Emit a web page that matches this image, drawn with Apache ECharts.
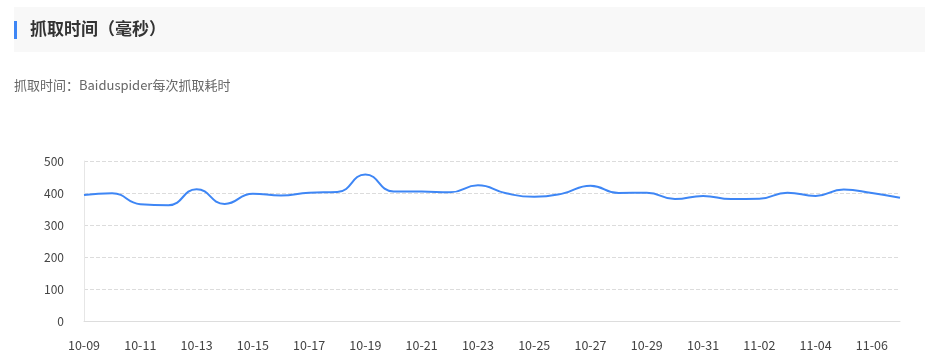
<!DOCTYPE html>
<html>
<head>
<meta charset="utf-8">
<style>
html,body{margin:0;padding:0;background:#fff;}
#chart{width:925px;height:364px;}
</style>
<script src="https://cdn.jsdelivr.net/npm/echarts@6/dist/echarts.min.js"></script>
</head>
<body>
<div id="chart"></div>
<script>
var titleText = '抓取时间（毫秒）';
var subtitleText = '抓取时间：Baiduspider每次抓取耗时';
var dates = ['10-09','10-10','10-11','10-12','10-13','10-14','10-15','10-16','10-17','10-18',
             '10-19','10-20','10-21','10-22','10-23','10-24','10-25','10-26','10-27','10-28',
             '10-29','10-30','10-31','11-01','11-02','11-03','11-04','11-05','11-06','11-07'];
var crawlTime = [394,399,365,362,412,366,398,392,401,403,
                 458,405,405,402,424,399,388,398,423,400,
                 401,381,391,381,382,401,391,411,400,385];
var yTicks = [0,100,200,300,400,500];

var font = '"Noto Sans CJK SC","Noto Sans",sans-serif';
var chart = echarts.init(document.getElementById('chart'), null, {renderer:'canvas'});
chart.setOption({
  animation:false,
  graphic:[
    {type:'rect', left:14, top:7, shape:{width:911,height:45}, style:{fill:'#f8f8f8'}, z:0},
    {type:'rect', left:14, top:21, shape:{width:3,height:18}, style:{fill:'#3e86f5'}, z:1},
    {type:'text', left:30, top:20, style:{text:titleText, fill:'#333', font:'bold 17px '+font}, z:2},
    {type:'text', left:14, top:79, style:{text:subtitleText, fill:'#666', font:'13px '+font}, z:2}
  ],
  grid:{left:84, right:25, top:161, bottom:43, containLabel:false},
  xAxis:{
    type:'category', data:dates, boundaryGap:false,
    axisLine:{lineStyle:{color:'#ddd'}},
    axisTick:{show:false},
    axisLabel:{interval:1, color:'#444', fontSize:12.5, fontFamily:font, margin:18}
  },
  yAxis:{
    type:'value', min:yTicks[0], max:yTicks[yTicks.length-1], interval:100,
    axisLine:{show:true, lineStyle:{color:'#e6e6e6'}},
    axisTick:{show:false},
    axisLabel:{color:'#444', fontSize:12, fontFamily:font, margin:20},
    splitLine:{lineStyle:{type:'dashed', color:'#dcdcdc'}}
  },
  series:[{
    type:'line', data:crawlTime, smooth:true, showSymbol:false,
    lineStyle:{color:'#3e86f5', width:2},
    itemStyle:{color:'#3e86f5'}
  }]
});
</script>
</body>
</html>
